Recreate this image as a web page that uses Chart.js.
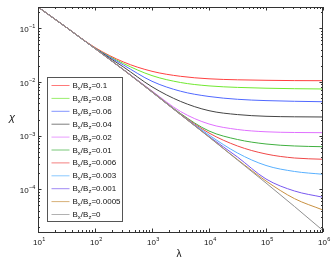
<!DOCTYPE html>
<html>
<head>
<meta charset="utf-8">
<script src="https://cdn.jsdelivr.net/npm/chart.js@4.4.1/dist/chart.umd.min.js"></script>
<style>
  html, body { margin: 0; padding: 0; background: #fff; }
</style>
</head>
<body>
<canvas id="chiChart" width="332" height="262"></canvas>
<script>
// lambda sample points (half decades)
const lambda = [10, 31.6, 100, 316, 1000, 3160, 10000, 31600, 100000, 316000, 1000000];

// legend labels (Bx/Bz ratio)
const ratioLabels = ['0.1', '0.08', '0.06', '0.04', '0.02', '0.01', '0.006', '0.003', '0.001', '0.0005', '0'];

// decade tick labels (exponents of 10)
const xExponents = [1, 2, 3, 4, 5, 6];
const yExponents = [-1, -2, -3, -4];

// chi, one array per curve
const chi_0_1    = [0.25, 0.1038, 0.04395, 0.0236, 0.01583, 0.01277, 0.01147, 0.01099, 0.01076, 0.01062, 0.01057];
const chi_0_08   = [0.25, 0.1038, 0.04302, 0.02212, 0.01316, 0.00979, 0.00846, 0.00793, 0.00766, 0.0075, 0.00741];
const chi_0_06   = [0.25, 0.1038, 0.04266, 0.02074, 0.01031, 0.00674, 0.00537, 0.00476, 0.0045, 0.00437, 0.00429];
const chi_0_04   = [0.25, 0.1038, 0.04229, 0.01904, 0.00814, 0.00435, 0.00292, 0.002469, 0.002295, 0.002246, 0.002227];
const chi_0_02   = [0.25, 0.1038, 0.0421, 0.0171, 0.0068, 0.00282, 0.001649, 0.001302, 0.00118, 0.001145, 0.001135];
const chi_0_01   = [0.25, 0.1038, 0.0421, 0.01696, 0.00665, 0.002588, 0.001221, 0.000848, 0.000699, 0.000642, 0.000622];
const chi_0_006  = [0.25, 0.1038, 0.0421, 0.01689, 0.00657, 0.002533, 0.001121, 0.000642, 0.000455, 0.000383, 0.000363];
const chi_0_003  = [0.25, 0.1038, 0.0421, 0.01689, 0.00651, 0.0025, 0.001028, 0.000475, 0.000278, 0.000215, 0.0001904];
const chi_0_001  = [0.25, 0.1038, 0.0421, 0.01689, 0.00651, 0.002479, 0.000965, 0.0004, 0.0001556, 0.000093, 0.000071];
const chi_0_0005 = [0.25, 0.1038, 0.0421, 0.01689, 0.00651, 0.002479, 0.000944, 0.000359, 0.0001428, 0.000067, 0.0000411];
const chi_0      = [0.25, 0.1038, 0.0421, 0.01689, 0.00651, 0.002479, 0.000944, 0.000352, 0.0001311, 0.0000478, 0.000017];

const allSeries = [chi_0_1, chi_0_08, chi_0_06, chi_0_04, chi_0_02, chi_0_01, chi_0_006, chi_0_003, chi_0_001, chi_0_0005, chi_0];
const lineColors = ['#ff4040', '#70e830', '#5068ff', '#444444', '#e070ff', '#40b040', '#f04848', '#58b0ff', '#7858f0', '#c89040', '#909090'];

const FONT = '"Liberation Sans", Arial, sans-serif';

// "10" with a raised exponent; align is 'center' or 'right'
function drawPower(ctx, exp, x, y, align) {
    ctx.font = '8px ' + FONT;
    const wBase = ctx.measureText('10').width;
    ctx.font = '5.5px ' + FONT;
    const sup = String(exp).replace('-', '\u2212');
    const wSup = ctx.measureText(sup).width;
    const left = align === 'right' ? x - wBase - wSup : x - (wBase + wSup) / 2;
    ctx.font = '8px ' + FONT;
    ctx.fillText('10', left, y);
    ctx.font = '5.5px ' + FONT;
    ctx.fillText(sup, left + wBase + 0.3, y - 3.5);
}

// box, inward ticks, tick labels, axis titles and legend like the original figure
const frame = {
    id: 'frame',
    afterDatasetsDraw(chart) {
        const { ctx, chartArea: a, scales: { x, y } } = chart;
        ctx.save();
        ctx.strokeStyle = '#333';
        ctx.lineWidth = 1;
        ctx.strokeRect(a.left + 0.5, a.top + 0.5, a.right - a.left - 1, a.bottom - a.top);

        ctx.beginPath();
        for (let e = 1; e <= 6; e++) {
            for (let k = 1; k <= 9; k++) {
                const v = k * Math.pow(10, e);
                if (v < x.min || v > x.max) continue;
                const px = Math.round(x.getPixelForValue(v)) + 0.5;
                const len = k === 1 ? 3.5 : 2;
                ctx.moveTo(px, a.bottom); ctx.lineTo(px, a.bottom - len);
                ctx.moveTo(px, a.top); ctx.lineTo(px, a.top + len);
            }
        }
        for (let e = -5; e <= -1; e++) {
            for (let k = 1; k <= 9; k++) {
                const v = k * Math.pow(10, e);
                if (v < y.min || v > y.max) continue;
                const py = Math.round(y.getPixelForValue(v)) + 0.5;
                const len = k === 1 ? 3.5 : 2;
                ctx.moveTo(a.left, py); ctx.lineTo(a.left + len, py);
                ctx.moveTo(a.right, py); ctx.lineTo(a.right - len, py);
            }
        }
        ctx.stroke();

        ctx.fillStyle = '#111';
        ctx.textAlign = 'left';
        ctx.textBaseline = 'alphabetic';
        xExponents.forEach(e => {
            drawPower(ctx, e, x.getPixelForValue(Math.pow(10, e)) + 1, a.bottom + 12.5, 'center');
        });
        yExponents.forEach(e => {
            drawPower(ctx, e, a.left - 3, y.getPixelForValue(Math.pow(10, e)) + 3.5, 'right');
        });
        ctx.restore();
    },
    afterDraw(chart) {
        const { ctx } = chart;
        ctx.save();
        ctx.fillStyle = '#111';
        ctx.textAlign = 'center';
        ctx.textBaseline = 'middle';
        ctx.font = '10px ' + FONT;
        ctx.fillText('\u03BB', 179, 254);
        ctx.font = 'italic 11px ' + FONT;
        ctx.fillText('\u03C7', 12, 118);

        // legend box
        const bx = 47.5, by = 77.5, bw = 75, bh = 144;
        ctx.fillStyle = '#fff';
        ctx.fillRect(bx, by, bw, bh);
        ctx.strokeStyle = '#555';
        ctx.lineWidth = 1;
        ctx.strokeRect(bx, by, bw, bh);

        ctx.textAlign = 'left';
        ctx.textBaseline = 'alphabetic';
        ratioLabels.forEach((lab, i) => {
            const ry = 85.5 + i * 12.9;
            ctx.strokeStyle = lineColors[i];
            ctx.globalAlpha = 0.7;
            ctx.beginPath();
            ctx.moveTo(51.5, ry); ctx.lineTo(69.5, ry);
            ctx.stroke();
            ctx.globalAlpha = 1;

            ctx.fillStyle = '#111';
            let tx = 72.5;
            const base = ry + 2.5;
            const parts = [['B', false], ['x', true], ['/B', false], ['z', true], ['=' + lab, false]];
            parts.forEach(([t, sub]) => {
                ctx.font = (sub ? '6px ' : '8px ') + FONT;
                ctx.fillText(t, tx, sub ? base + 2 : base);
                tx += ctx.measureText(t).width;
            });
        });
        ctx.restore();
    }
};

const datasets = allSeries.map((arr, i) => ({
    label: 'Bx/Bz=' + ratioLabels[i],
    data: lambda.map((l, j) => ({ x: l, y: arr[j] })),
    borderColor: lineColors[i],
    borderWidth: 1,
    pointRadius: 0,
    fill: false,
    cubicInterpolationMode: 'monotone',
    order: allSeries.length - i
}));

new Chart(document.getElementById('chiChart').getContext('2d'), {
    type: 'line',
    data: { datasets: datasets },
    options: {
        responsive: false,
        animation: false,
        devicePixelRatio: 1,
        layout: { padding: { top: 7, right: 9, left: 0, bottom: 0 } },
        plugins: {
            legend: { display: false },
            tooltip: { enabled: false }
        },
        scales: {
            x: {
                type: 'logarithmic',
                min: 10,
                max: 1000000,
                grid: { display: false, drawTicks: false, tickLength: 0 },
                border: { display: false },
                afterFit: s => { s.height = 30; },
                ticks: { display: false }
            },
            y: {
                type: 'logarithmic',
                min: 0.000016,
                max: 0.25,
                grid: { display: false, drawTicks: false, tickLength: 0 },
                border: { display: false },
                afterFit: s => { s.width = 38; },
                ticks: { display: false }
            }
        }
    },
    plugins: [frame]
});
</script>
</body>
</html>
